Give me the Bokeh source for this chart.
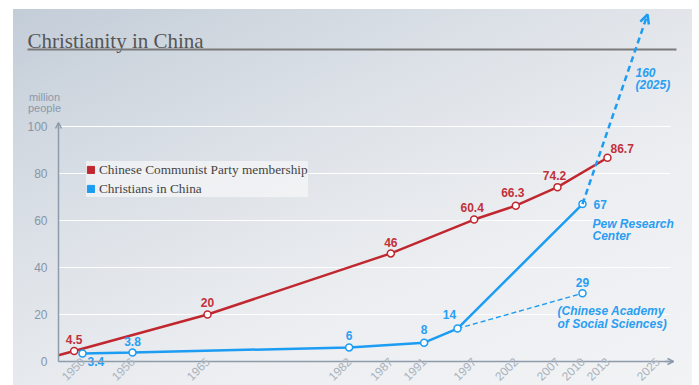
import math
from bokeh.plotting import figure
from bokeh.models import (Range1d, FixedTicker, Legend, LegendItem, Arrow, OpenHead,
                          Label)
from bokeh.core.properties import value
from bokeh.embed import file_html
from bokeh.resources import INLINE

# ---------------- data ----------------
CCP_YEARS = [1949, 1965, 1987, 1997, 2002, 2007, 2013]
CCP_MEMBERS = [4.5, 20, 46, 60.4, 66.3, 74.2, 86.7]

CHR_YEARS = [1950, 1956, 1982, 1991, 1995, 2010]
CHR_PEW = [3.4, 3.8, 6, 8, 14, 67]

CASS_YEARS = [1995, 2010]
CASS_VALUES = [14, 29]

PROJ_YEAR = 2025
PROJ_VALUE = 160

X_TICKS = [1950, 1956, 1965, 1982, 1987, 1991, 1997, 2002, 2007, 2010, 2013, 2025]
Y_TICKS = [0, 20, 40, 60, 80, 100]

TITLE = "Christianity in China"
Y_TITLE = "million\npeople"
SERIES_NAMES = ["Chinese Communist Party membership", "Christians in China"]
NOTE_PEW = "Pew Research\nCenter"
NOTE_CASS = "(Chinese Academy\nof Social Sciences)"

# ---------------- styles ----------------
RED = "#c1272f"
RED_TXT = "#c2313a"
BLUE = "#1c9cf2"
BLUE_TXT = "#2a9ef2"
AXIS = "#8e9bab"
SANS = "Liberation Sans"
SERIF = "Liberation Serif"

def xpos(year):
    # the chart compresses the time axis after the last observation
    return year if year <= 2013 else 2013 + (year - 2013) * 0.5

# geometry: canvas sits at page (13, 9), 679 x 376 px; the frame fills it
W, H = 679, 376
PX_PER_YEAR = 8.333
PX_PER_UNIT = 2.35
def px_x(page_x):
    return 1950 + (page_x - 82) / PX_PER_YEAR
def px_y(page_y):
    return (361 - page_y) / PX_PER_UNIT

X0, X1 = px_x(13), px_x(13 + W)
Y0, Y1 = px_y(9 + H), px_y(9)
X_AX = px_x(58)            # where the value axis stands
X_AX_END = px_x(673)       # end of the time axis
GRID_END = px_x(670)

p = figure(width=W, height=H,
           x_range=Range1d(X0, X1), y_range=Range1d(Y0, Y1),
           output_backend="svg", toolbar_location=None,
           min_border=0)
p.margin = (9, 7, 0, 13)
p.styles = {"background": "linear-gradient(155deg, #c3cdd8 0%, #dce1e7 35%, #eceef1 65%, #f2f3f5 100%)"}
p.border_fill_alpha = 0
p.background_fill_alpha = 0
p.outline_line_color = None

# axes (fixed inside the frame)
p.xaxis.fixed_location = 0
p.yaxis.fixed_location = X_AX
p.xaxis.ticker = FixedTicker(ticks=[xpos(t) for t in X_TICKS])
p.xaxis.major_label_overrides = {xpos(t): str(t) for t in X_TICKS}
p.xaxis.major_label_orientation = math.pi / 4
p.yaxis.ticker = FixedTicker(ticks=Y_TICKS)
p.xaxis.bounds = (X_AX, X_AX_END)
p.yaxis.bounds = (0, Y_TICKS[-1])
for ax in (p.xaxis, p.yaxis):
    ax.axis_line_color = AXIS
    ax.axis_line_width = 1.5
    ax.major_tick_line_color = None
    ax.minor_tick_line_color = None
    ax.major_label_text_font = SANS
p.xaxis.major_label_text_font_size = "12px"
p.yaxis.major_label_text_font_size = "12px"
p.xaxis.major_label_text_color = "#a9b2bc"
p.xaxis.major_label_standoff = -8
p.yaxis.major_label_text_color = "#8796a7"
p.yaxis.major_label_standoff = 5

# grid: white rules at the value ticks, from the axis to the end of the chart area
p.xgrid.grid_line_color = None
p.ygrid.grid_line_color = None
p.segment(x0=[X_AX] * (len(Y_TICKS) - 1), x1=[GRID_END] * (len(Y_TICKS) - 1),
          y0=Y_TICKS[1:], y1=Y_TICKS[1:], line_color="white", line_width=1.2, level="underlay")

# axis arrows
p.add_layout(Arrow(x_start=X_AX_END - 1, y_start=0, x_end=X_AX_END, y_end=0,
                   line_color=AXIS, line_width=1.5,
                   end=OpenHead(size=6, line_color=AXIS, line_width=1.5)))
p.add_layout(Arrow(x_start=X_AX, y_start=Y_TICKS[-1] - 1, x_end=X_AX, y_end=px_y(122),
                   line_color=AXIS, line_width=1.5,
                   end=OpenHead(size=6, line_color=AXIS, line_width=1.5)))

# title + rule + unit label
p.add_layout(Label(x=px_x(27), y=px_y(40), text=TITLE,
                   text_font=SERIF, text_font_size="21px", text_color="#555555",
                   text_baseline="alphabetic"))
p.add_layout(Arrow(x_start=px_x(27), x_end=px_x(676), y_start=px_y(49), y_end=px_y(49),
                   line_color="#7a7a7a", line_width=2, end=None))
p.add_layout(Label(x=px_x(44), y=px_y(114), text=Y_TITLE,
                   text_font=SANS, text_font_size="11px", text_color="#8a99aa",
                   text_align="center", text_baseline="bottom", text_line_height=0.95))

# CCP line (its first segment continues back to the value axis)
slope = (CCP_MEMBERS[1] - CCP_MEMBERS[0]) / (CCP_YEARS[1] - CCP_YEARS[0])
p.line([X_AX] + CCP_YEARS, [CCP_MEMBERS[0] + slope * (X_AX - CCP_YEARS[0])] + CCP_MEMBERS,
       line_color=RED, line_width=2.5)

# Christians
p.line(CHR_YEARS, CHR_PEW, line_color=BLUE, line_width=2.5)
p.line(CASS_YEARS, CASS_VALUES, line_color=BLUE, line_width=1.4, line_dash="5 3")

# projection arrow toward 2025 (cut at the top of the panel)
tip_val = px_y(14)
frac = (tip_val - CHR_PEW[-1]) / (PROJ_VALUE - CHR_PEW[-1])
tip_x = CHR_YEARS[-1] + frac * (xpos(PROJ_YEAR) - CHR_YEARS[-1])
p.add_layout(Arrow(x_start=CHR_YEARS[-1], y_start=CHR_PEW[-1], x_end=tip_x, y_end=tip_val,
                   line_color=BLUE, line_width=2.5, line_dash="6 4",
                   end=OpenHead(size=9, line_color=BLUE, line_width=2.5)))

# markers
mk = dict(size=7, fill_color="white", line_width=1.5)
p.scatter(CCP_YEARS, CCP_MEMBERS, line_color=RED, **mk)
p.scatter(CHR_YEARS, CHR_PEW, line_color=BLUE, **mk)
p.scatter(CASS_YEARS[1:], CASS_VALUES[1:], line_color=BLUE, **mk)

# value labels
def fmt(v):
    return "%g" % v

lab = dict(text_baseline="middle", text_font=value(SANS), text_font_style="bold", text_font_size="12px")
ccp_dx = [0, 0, 0, -2, -3, -3, 3]
ccp_dy = [-11, -12, -11, -12, -13, -12, -9]
ccp_al = ["center"] * 6 + ["left"]
p.text(CCP_YEARS, CCP_MEMBERS, text=[fmt(v) for v in CCP_MEMBERS], x_offset=ccp_dx, y_offset=ccp_dy,
       text_align=ccp_al, text_color=RED_TXT, **lab)

chr_dx = [5, 0, 0, 0, -8, 11]
chr_dy = [8, -11, -12, -13, -14, 0]
chr_al = ["left", "center", "center", "center", "center", "left"]
p.text(CHR_YEARS, CHR_PEW, text=[fmt(v) for v in CHR_PEW], x_offset=chr_dx, y_offset=chr_dy,
       text_align=chr_al, text_color=BLUE_TXT, **lab)
p.text(CASS_YEARS[1:], CASS_VALUES[1:], text=[fmt(v) for v in CASS_VALUES[1:]], x_offset=0, y_offset=-11,
       text_align="center", text_color=BLUE_TXT, **lab)

# source annotations
note = dict(text_font=value(SANS), text_font_style="bold italic", text_font_size="12px",
            text_color=BLUE_TXT, text_baseline="top", text_align="left", text_line_height=0.87)
p.text([CHR_YEARS[-1]], [CHR_PEW[-1]], text=[NOTE_PEW], x_offset=10, y_offset=13, **note)
p.text([CASS_YEARS[-1]], [CASS_VALUES[-1]], text=[NOTE_CASS], x_offset=-25, y_offset=11, **note)
p.text([tip_x], [tip_val], text=["%d\n(%d)" % (PROJ_VALUE, PROJ_YEAR)], x_offset=-12, y_offset=51, **note)

# legend
nan = float("nan")
r_red = p.quad(left=[nan], right=[nan], top=[nan], bottom=[nan], fill_color=RED, line_color=RED)
r_blue = p.quad(left=[nan], right=[nan], top=[nan], bottom=[nan], fill_color=BLUE, line_color=BLUE)
legend = Legend(items=[LegendItem(label=SERIES_NAMES[0], renderers=[r_red]),
                       LegendItem(label=SERIES_NAMES[1], renderers=[r_blue])],
                location=(73, 188), glyph_width=9, glyph_height=9, label_height=17,
                label_standoff=4, spacing=2, padding=9, margin=0,
                label_text_font=SERIF, label_text_font_size="13.3px", label_text_color="#444444",
                background_fill_color="#f4f5f7", background_fill_alpha=0.75,
                border_line_color=None)
p.add_layout(legend, "center")

open("out.html", "w").write(file_html(p, INLINE))
